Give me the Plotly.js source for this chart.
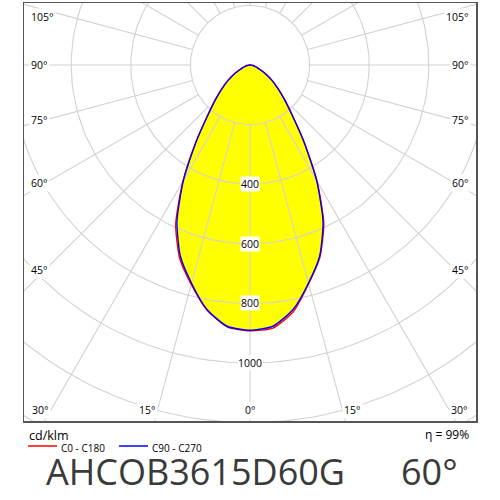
<!DOCTYPE html>
<html>
<head>
<meta charset="utf-8">
<script src="https://cdn.plot.ly/plotly-3.0.1.min.js"></script>
<style>
  body { margin: 0; background: #fff; }
  #chart { width: 500px; height: 500px; }
</style>
</head>
<body>
<div id="chart"></div>
<script>
// luminous intensity in cd/klm, read every 5 deg from nadir (0) up to horizontal (90)
let gamma = [0, 5, 10, 15, 20, 25, 30, 35, 40, 45, 50, 55, 60, 65, 70, 75, 80, 85, 90];
let c0    = [892, 886, 840, 760, 686, 586, 450, 318, 222, 164, 122, 90, 62, 38, 26, 17, 10, 5, 0];
let c180  = [892, 882, 834, 762, 690, 590, 450, 318, 222, 164, 122, 90, 62, 38, 26, 17, 10, 5, 0];
let c90   = [890, 880, 833, 758, 683, 580, 447, 317, 221, 164, 122, 90, 62, 38, 26, 17, 10, 5, 0];
let c270  = [890, 880, 833, 758, 683, 580, 447, 317, 221, 164, 122, 90, 62, 38, 26, 17, 10, 5, 0];

let rings = [200, 400, 600, 800, 1000, 1200, 1400];
let ringLabels = [400, 600, 800, 1000];
let sideAngles = [105, 90, 75, 60, 45];
let bottomAngles = [30, 15];
let efficiency = 'η = 99%';
let unit = 'cd/klm';
let seriesNames = ['C0 - C180', 'C90 - C270'];
let productName = 'AHCOB3615D60G';
let beamAngle = '60°';

//pixel helpers (the diagram centre sits at 250,65; 200 cd/klm = 59.6 px)
const CX = 250, CY = 65, PPC = 59.6 / 200;
const L = 24, R = 476, T = 3, B = 421;
function dataX(px) { return (px - CX) / PPC; }
function dataY(py) { return (CY - py) / PPC; }
function paperX(px) { return (px - L) / (R - L); }
function paperY(py) { return (B - py) / (B - T); }
const rad = Math.PI / 180;

function curve(left, right) {
    let x = [], y = [];
    for (let i = gamma.length - 1; i >= 0; i--) {
        x.push(-left[i] * Math.sin(gamma[i] * rad));
        y.push(-left[i] * Math.cos(gamma[i] * rad));
    }
    for (let i = 1; i < gamma.length; i++) {
        x.push(right[i] * Math.sin(gamma[i] * rad));
        y.push(-right[i] * Math.cos(gamma[i] * rad));
    }
    return [x, y];
}

// grid
let gx = [], gy = [];
rings.forEach(function (v) {
    for (let a = 0; a <= 360; a += 2) {
        gx.push(v * Math.sin(a * rad));
        gy.push(-v * Math.cos(a * rad));
    }
    gx.push(null); gy.push(null);
});
for (let a = 0; a < 360; a += 15) {
    gx.push(200 * Math.sin(a * rad), 2000 * Math.sin(a * rad), null);
    gy.push(-200 * Math.cos(a * rad), -2000 * Math.cos(a * rad), null);
}

let red = curve(c180, c0);
let blue = curve(c270, c90);

let data = [
    {x: blue[0], y: blue[1], mode: 'lines', fill: 'toself', fillcolor: '#ffff00',
     line: {width: 0, shape: 'spline', smoothing: 0.6}, hoverinfo: 'skip'},
    {x: gx, y: gy, mode: 'lines', line: {color: '#d2d2d2', width: 1.1}, hoverinfo: 'skip'},
    {x: red[0], y: red[1], mode: 'lines', name: seriesNames[0],
     line: {color: '#ff0000', width: 1.4, shape: 'spline', smoothing: 0.6}},
    {x: blue[0], y: blue[1], mode: 'lines', name: seriesNames[1],
     line: {color: '#0000ff', width: 1.4, shape: 'spline', smoothing: 0.6}}
];

let small = {family: 'Open Sans, sans-serif', size: 10.5, color: '#000'};
let ann = [];

ringLabels.forEach(function (v) {
    ann.push({x: 0, y: -v, xref: 'x', yref: 'y', text: String(v), showarrow: false,
              yanchor: 'middle', bgcolor: '#fff', borderpad: 0, font: small});
});

sideAngles.forEach(function (a) {
    let s = Math.sin(a * rad), c = Math.cos(a * rad);
    let xl = dataX(45);
    let y = Math.min(xl * c / s, dataY(17));
    ann.push({x: dataX(29), y: y, xref: 'x', yref: 'y', xanchor: 'left', yanchor: 'middle', text: a + '°',
              showarrow: false, bgcolor: '#fff', borderpad: 1, font: small});
    ann.push({x: dataX(471), y: y, xref: 'x', yref: 'y', xanchor: 'right', yanchor: 'middle', text: a + '°',
              showarrow: false, bgcolor: '#fff', borderpad: 1, font: small});
});

let yb = dataY(410);
bottomAngles.forEach(function (a) {
    let xr = -yb * Math.tan(a * rad);
    ann.push({x: -xr, y: yb, xref: 'x', yref: 'y', xanchor: 'right', yanchor: 'middle', text: a + '°',
              showarrow: false, bgcolor: '#fff', borderpad: 1, font: small});
    ann.push({x: xr, y: yb, xref: 'x', yref: 'y', xanchor: 'left', yanchor: 'middle', text: a + '°',
              showarrow: false, bgcolor: '#fff', borderpad: 1, font: small});
});
ann.push({x: 0, y: yb, xref: 'x', yref: 'y', text: '0°', showarrow: false, yanchor: 'middle',
          bgcolor: '#fff', borderpad: 1, font: small});

// legend and titles under the frame
function note(px, py, anchor, text, size, color) {
    ann.push({x: paperX(px), y: paperY(py), xref: 'paper', yref: 'paper', xanchor: anchor,
              yanchor: 'middle', text: text, showarrow: false, borderpad: 0,
              font: {family: 'Open Sans, sans-serif', size: size, color: color}});
}
note(28, 435, 'left', unit, 12.5, '#000');
note(470, 434, 'right', efficiency, 12, '#000');
note(60, 448, 'left', seriesNames[0], 10, '#000');
note(151, 448, 'left', seriesNames[1], 10, '#000');
note(45, 471, 'left', productName, 36, '#3a3a3a');
note(400, 471, 'left', beamAngle, 36, '#3a3a3a');

let shapes = [
    {type: 'line', xref: 'paper', yref: 'paper', x0: paperX(28), x1: paperX(57),
     y0: paperY(446), y1: paperY(446), line: {color: '#ff0000', width: 1.5}},
    {type: 'line', xref: 'paper', yref: 'paper', x0: paperX(119), x1: paperX(148),
     y0: paperY(446), y1: paperY(446), line: {color: '#0000ff', width: 1.5}}
];

let layout = {
    width: 500, height: 500,
    margin: {l: L, r: 500 - R, t: T, b: 500 - B, pad: 0},
    paper_bgcolor: '#fff', plot_bgcolor: '#fff',
    showlegend: false,
    hovermode: false,
    xaxis: {range: [dataX(L), dataX(R)], showgrid: false, zeroline: false, showticklabels: false,
            ticks: '', showline: true, mirror: true, linecolor: '#555', linewidth: 1.5, fixedrange: true},
    yaxis: {range: [dataY(B), dataY(T)], showgrid: false, zeroline: false, showticklabels: false,
            ticks: '', showline: true, mirror: true, linecolor: '#555', linewidth: 1.5, fixedrange: true},
    annotations: ann,
    shapes: shapes
};

Plotly.newPlot('chart', data, layout, {staticPlot: true, displayModeBar: false});
</script>
</body>
</html>
